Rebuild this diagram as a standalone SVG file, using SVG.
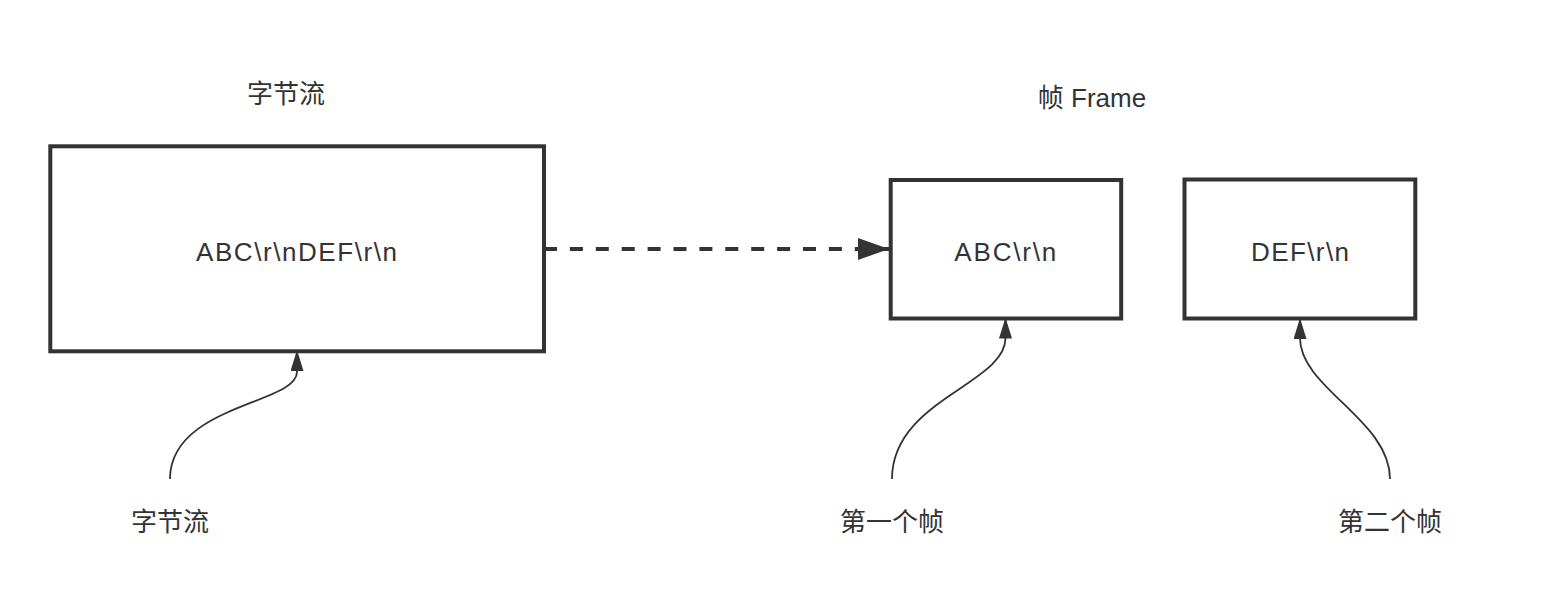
<svg xmlns="http://www.w3.org/2000/svg" width="1560" height="610" viewBox="0 0 1560 610">
<style>
  .box { fill: #ffffff; stroke: #333333; stroke-width: 4; }
  .txt { font-family: "Liberation Sans", "Noto Sans CJK SC", sans-serif; font-size: 26px; fill: #333333; text-anchor: middle; }
  .dash { fill: none; stroke: #333333; stroke-width: 4; stroke-dasharray: 13 12.9; }
  .curve { fill: none; stroke: #333333; stroke-width: 1.8; }
</style>
<defs>
  <marker id="arrowBig" markerUnits="userSpaceOnUse" viewBox="0 0 31 22" markerWidth="31" markerHeight="22" refX="31" refY="11" orient="auto">
    <path d="M0,0 L31,11 L0,22 Z" fill="#333333"/>
  </marker>
  <marker id="arrowSmall" markerUnits="userSpaceOnUse" viewBox="0 0 21 13" markerWidth="21" markerHeight="13" refX="21" refY="6.5" orient="auto">
    <path d="M0,0 L21,6.5 L0,13 Z" fill="#333333"/>
  </marker>
</defs>
<rect width="1560" height="610" fill="#ffffff"/>

<g id="title-bytes">
  <text class="txt" x="286" y="103">字节流</text>
</g>
<g id="title-frame">
  <text class="txt" x="1092" y="107">帧 Frame</text>
</g>

<g id="node-stream">
  <rect class="box" x="50.3" y="146.3" width="493.7" height="205"/>
  <text class="txt" x="296.5" y="260.5" textLength="201" lengthAdjust="spacing">ABC\r\nDEF\r\n</text>
</g>
<g id="node-frame1">
  <rect class="box" x="890.7" y="180" width="230.5" height="138.5"/>
  <text class="txt" x="1005.3" y="260.5" textLength="102" lengthAdjust="spacing">ABC\r\n</text>
</g>
<g id="node-frame2">
  <rect class="box" x="1184.5" y="179.5" width="230.8" height="139"/>
  <text class="txt" x="1300" y="260.5" textLength="98" lengthAdjust="spacing">DEF\r\n</text>
</g>

<g id="label-stream">
  <text class="txt" x="170" y="531">字节流</text>
</g>
<g id="label-frame1">
  <text class="txt" x="892" y="531">第一个帧</text>
</g>
<g id="label-frame2">
  <text class="txt" x="1390" y="531">第二个帧</text>
</g>

<g id="connectors">
  <path class="dash" d="M544,249 L889,249" marker-end="url(#arrowBig)"/>
  <path class="curve" d="M170,479 C170,405 297,404 297,372 L297,350" marker-end="url(#arrowSmall)"/>
  <path class="curve" d="M892,479 C892,400 1005.5,384 1005.5,338 L1005.5,317.5" marker-end="url(#arrowSmall)"/>
  <path class="curve" d="M1390,479 C1390,420 1300,388 1300,338 L1300,318" marker-end="url(#arrowSmall)"/>
</g>
</svg>
